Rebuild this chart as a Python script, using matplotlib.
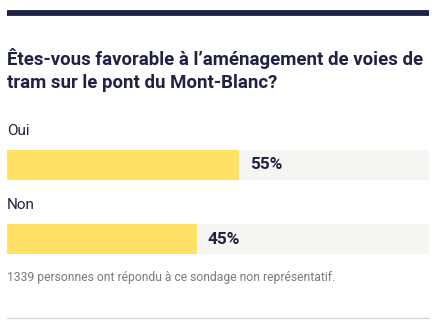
import matplotlib.pyplot as plt

# Data
title = "Êtes-vous favorable à l’aménagement de voies de\ntram sur le pont du Mont-Blanc?"
answers = ["Oui", "Non"]
shares = [55, 45]
note = "1339 personnes ont répondu à ce sondage non représentatif."

navy = "#1f2244"
yellow = "#ffe264"
track = "#f6f5f2"
font = ["Roboto", "DejaVu Sans"]

W, H = 439, 327
fig = plt.figure(figsize=(W / 100, H / 100), dpi=100)
fig.patch.set_facecolor("white")

def px(x, y):
    return x / W, 1 - y / H

# top rule
fig.add_artist(plt.Line2D([7 / W, 429 / W], [1 - 12.5 / H] * 2, color=navy, lw=4.2, solid_capstyle="butt"))

# title
fig.text(*px(7, 70), title, fontsize=13.4, fontweight="bold", color=navy,
         family=font, va="center", linespacing=1.4)

# bar area
ax = fig.add_axes([7 / W, 1 - 254 / H, 422 / W, 104 / H])
pos = list(range(len(answers)))
h = 30 / 74
ax.barh(pos, [100] * len(answers), height=h, color=track, left=0)
ax.barh(pos, shares, height=h, color=yellow)
for p, a, s in zip(pos, answers, shares):
    ax.text(s + 2.6, p, f"{s}%", va="center", ha="left", fontsize=12.3,
            fontweight="bold", color=navy, family=font)
    ax.text(0, p - 0.465, a, va="center", ha="left", fontsize=11,
            color=navy, family=font)
ax.set_xlim(0, 100)
ax.set_ylim(1 + 0.5 * h, -0.5 * h)
ax.axis("off")

# footnote
fig.text(*px(7, 278), note, fontsize=8.7, color="#7a7a7a", family=font, va="center")

# bottom rule
fig.add_artist(plt.Line2D([7 / W, 429 / W], [1 - 318 / H] * 2, color="#d0d0d0", lw=0.8))

fig.savefig("out.png", dpi=100)
